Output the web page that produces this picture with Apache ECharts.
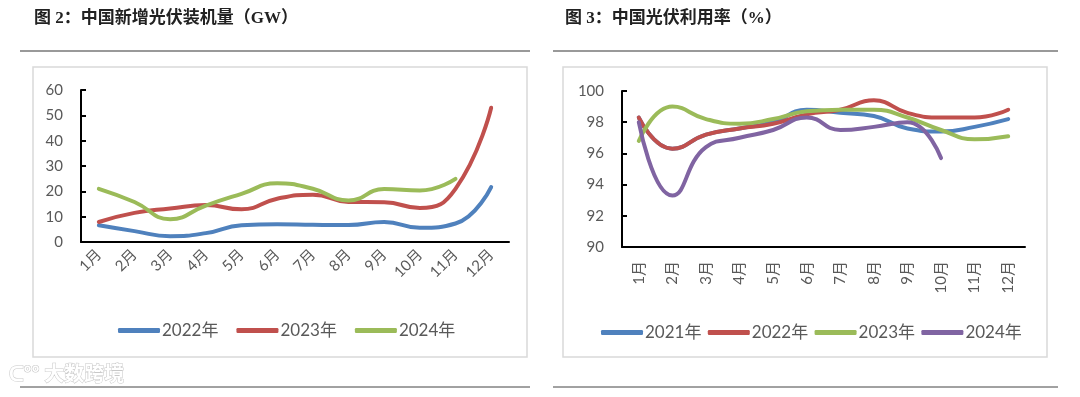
<!DOCTYPE html>
<html>
<head>
<meta charset="utf-8">
<script src="https://cdn.jsdelivr.net/npm/echarts@6/dist/echarts.min.js"></script>
<style>
  html, body { margin: 0; padding: 0; background: #fff; }
  #main { width: 1080px; height: 397px; }
</style>
</head>
<body>
<div id="main"></div>
<script>
// 月份
var months = ['1月','2月','3月','4月','5月','6月','7月','8月','9月','10月','11月','12月'];
// 图2 新增装机 GW
var install2022 = [6.6, 4.3, 2.3, 3.5, 6.6, 7.0, 6.8, 6.7, 7.9, 5.6, 7.3, 21.7];
var install2023 = [7.9, 11.5, 13.2, 14.6, 12.9, 17.1, 18.7, 15.8, 15.7, 13.4, 21.0, 53.0];
var install2024 = [21.0, 15.8, 9.0, 14.4, 19.0, 23.2, 21.0, 16.4, 20.9, 20.3, 24.9];
// 图3 利用率 %
var rate2021 = [98.3, 96.3, 97.2, 97.6, 98.0, 98.8, 98.6, 98.4, 97.6, 97.4, 97.7, 98.2];
var rate2022 = [98.3, 96.3, 97.2, 97.6, 97.9, 98.5, 98.8, 99.4, 98.6, 98.3, 98.3, 98.8];
var rate2023 = [96.8, 99.0, 98.2, 97.9, 98.2, 98.7, 98.8, 98.8, 98.3, 97.5, 96.9, 97.1];
var rate2024 = [98.0, 93.3, 96.4, 97.0, 97.5, 98.3, 97.5, 97.7, 98.0, 95.7];

var FONT = 'Lato, "Noto Sans CJK SC", sans-serif';
var GRAY = '#595959';

function mkLine(name, data, color, xi) {
	return {
		name: name,
		type: 'line',
		xAxisIndex: xi,
		yAxisIndex: xi,
		data: data,
		smooth: true,
		symbol: 'none',
		lineStyle: { width: 4, color: color, cap: 'round' },
		itemStyle: { color: color }
	};
}

function mkX(gi, rot, margin) {
	return {
		type: 'category',
		gridIndex: gi,
		data: months,
		boundaryGap: true,
		axisLine: { lineStyle: { color: '#000', width: 2 } },
		axisTick: { inside: true, length: 5, lineStyle: { color: '#000', width: 2 } },
		axisLabel: { rotate: rot, margin: margin, color: GRAY, fontSize: 15, fontFamily: FONT, interval: 0 },
		splitLine: { show: false }
	};
}

function mkY(gi, min, max, step) {
	return {
		type: 'value',
		gridIndex: gi,
		min: min, max: max, interval: step,
		axisLine: { show: true, lineStyle: { color: '#000', width: 2 } },
		axisTick: { show: true, inside: true, length: 5, lineStyle: { color: '#000', width: 2 } },
		axisLabel: { color: GRAY, fontSize: 15, fontFamily: FONT, margin: 18 },
		splitLine: { show: false }
	};
}

var chart = echarts.init(document.getElementById('main'));
var option = {
	animation: false,
	grid: [
		{ left: 81, top: 90, width: 428, height: 152 },
		{ left: 622, top: 91, width: 403, height: 156 }
	],
	xAxis: [ mkX(0, 45, 10), mkX(1, 90, 14) ],
	yAxis: [ mkY(0, 0, 60, 10), mkY(1, 90, 100, 2) ],
	legend: [
		{
			data: ['2022年','2023年','2024年'],
			left: 113, top: 317,
			itemWidth: 42, itemHeight: 5, itemGap: 18,
			icon: 'roundRect',
			textStyle: { color: GRAY, fontSize: 17, fontFamily: FONT, padding: [0, 0, 0, -3] }
		},
		{
			data: ['2021年 ','2022年 ','2023年 ','2024年 '],
			left: 596, top: 319,
			itemWidth: 42, itemHeight: 5, itemGap: 2,
			icon: 'roundRect',
			textStyle: { color: GRAY, fontSize: 17, fontFamily: FONT, padding: [0, 0, 0, -3] }
		}
	],
	series: [
		mkLine('2022年', install2022, '#4F81BD', 0),
		mkLine('2023年', install2023, '#C0504D', 0),
		mkLine('2024年', install2024, '#9BBB59', 0),
		mkLine('2021年 ', rate2021, '#4F81BD', 1),
		mkLine('2022年 ', rate2022, '#C0504D', 1),
		mkLine('2023年 ', rate2023, '#9BBB59', 1),
		mkLine('2024年 ', rate2024, '#8064A2', 1)
	],
	graphic: [
		// 标题
		{ type: 'text', left: 34, top: 10, style: { text: '图 2：中国新增光伏装机量（GW）', fill: '#222', font: 'bold 17px "Liberation Serif", "Noto Sans CJK SC"' } },
		{ type: 'text', left: 565, top: 10, style: { text: '图 3：中国光伏利用率（%）', fill: '#222', font: 'bold 17px "Liberation Serif", "Noto Sans CJK SC"' } },
		// 分隔线
		{ type: 'line', shape: { x1: 20, y1: 51, x2: 530, y2: 51 }, style: { stroke: '#999', lineWidth: 2 } },
		{ type: 'line', shape: { x1: 553, y1: 51, x2: 1058, y2: 51 }, style: { stroke: '#999', lineWidth: 2 } },
		{ type: 'line', shape: { x1: 20, y1: 387, x2: 530, y2: 387 }, style: { stroke: '#444', lineWidth: 1 } },
		{ type: 'line', shape: { x1: 553, y1: 387, x2: 1058, y2: 387 }, style: { stroke: '#444', lineWidth: 1 } },
		// 图框
		{ type: 'rect', shape: { x: 33, y: 67, width: 494, height: 290 }, style: { fill: 'none', stroke: '#d9d9d9', lineWidth: 1.5 }, z: -1 },
		{ type: 'rect', shape: { x: 563, y: 67, width: 484, height: 290 }, style: { fill: 'none', stroke: '#d9d9d9', lineWidth: 1.5 }, z: -1 },
		// 水印
		{ type: 'text', left: 8, top: 363, style: { text: 'ᑕ°° 大数跨境', fill: '#fff', stroke: '#c8c8c8', lineWidth: 1, font: 'bold 20px "Noto Sans CJK SC"' } }
	]
};
chart.setOption(option);
</script>
</body>
</html>
